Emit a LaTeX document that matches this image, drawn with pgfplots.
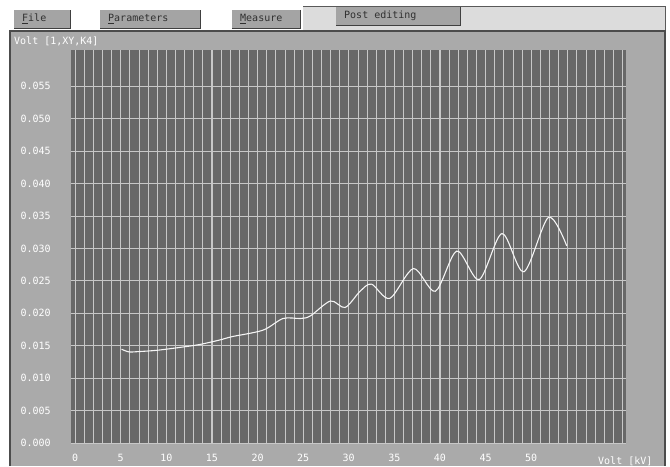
\documentclass[border=0pt]{standalone}
\usepackage{fontspec}
\setmonofont{DejaVu Sans Mono}
\usepackage{pgfplots}
\pgfplotsset{compat=1.18}

\definecolor{panel}{HTML}{AAAAAA}
\definecolor{plotbg}{HTML}{686868}
\definecolor{gridv}{HTML}{C8C8C8}
\definecolor{btn}{HTML}{A4A4A4}
\definecolor{tab}{HTML}{DCDCDC}
\definecolor{menutxt}{HTML}{303030}

\begin{document}
\begin{tikzpicture}[x=1pt,y=-1pt,font=\ttfamily\fontsize{10}{12}\selectfont]
% window background, menu bar and panel
\fill[white] (0,0) rectangle (670,466);
\fill[tab] (303,6) rectangle (665,31);
\draw[gray!70!black, line width=1pt] (303,6) -- (665,6) -- (665,31);
\fill[panel] (10,31) rectangle (665,466);
\draw[gray!60!black, line width=1.2pt] (10,466) -- (10,31) -- (665,31) -- (665,466);
\foreach \a/\b/\t/\u/\r in {14/70/10/28/{\underline{F}ile}, 100/200/10/28/{\underline{P}arameters}, 232/300/10/28/{\underline{M}easure}, 336/460/7/25/{Post editing}}{
  \fill[btn] (\a,\t) rectangle (\b,\u);
  \draw[gray!50!black, line width=0.6pt] (\a,\u) -- (\b,\u) -- (\b,\t);
  \node[anchor=west, text=menutxt, inner sep=0pt] at (\a+8,{(\t+\u)/2}) {\r};
}
\node[anchor=west, text=white, inner sep=0pt] at (14,41) {Volt [1,XY,K4]};
\node[anchor=west, text=white, inner sep=0pt] at (598,461) {Volt [kV]};

\begin{axis}[
    at={(71pt,-443pt)}, anchor=south west,
    scale only axis, width=555pt, height=393pt,
    xmin=-0.45, xmax=60.4, ymin=0, ymax=0.0606,
    scaled y ticks=false, scaled x ticks=false,
    axis background/.style={fill=plotbg},
    axis line style={draw=none},
    tick style={draw=none},
    xtick={0,5,10,15,20,25,30,35,40,45,50},
    xticklabels={0,5,10,15,20,25,30,35,40,45,50},
    minor xtick={0,1,...,60},
    ytick={0,0.005,0.010,0.015,0.020,0.025,0.030,0.035,0.040,0.045,0.050,0.055},
    yticklabels={0.000,0.005,0.010,0.015,0.020,0.025,0.030,0.035,0.040,0.045,0.050,0.055},
    grid=both,
    major grid style={gridv, line width=0.9pt},
    minor grid style={gridv, line width=0.7pt},
    ticklabel style={font=\ttfamily\fontsize{10}{12}\selectfont, text=white},
    xticklabel style={yshift=-8pt},
    yticklabel style={anchor=west, xshift=-54pt},
    clip=true,
]
\addplot[white!92!gray, line width=1.1pt, smooth, tension=0.5] coordinates {
  (5.1,0.01446) (5.9,0.01405) (7.0,0.0141) (9.0,0.0143) (11.8,0.0148)
  (13.7,0.0152) (15.9,0.0159) (17.2,0.0164) (20.6,0.0174) (22.8,0.0192)
  (24.7,0.0192) (25.8,0.0196) (28.0,0.0219) (29.6,0.0209) (31.25,0.0234)
  (32.5,0.0245) (34.5,0.0223) (37.1,0.0269) (39.5,0.0234) (41.85,0.0296)
  (44.3,0.0252) (46.8,0.0323) (49.2,0.0264) (51.9,0.0348) (53.9,0.0304)
};
\end{axis}
\end{tikzpicture}
\end{document}
